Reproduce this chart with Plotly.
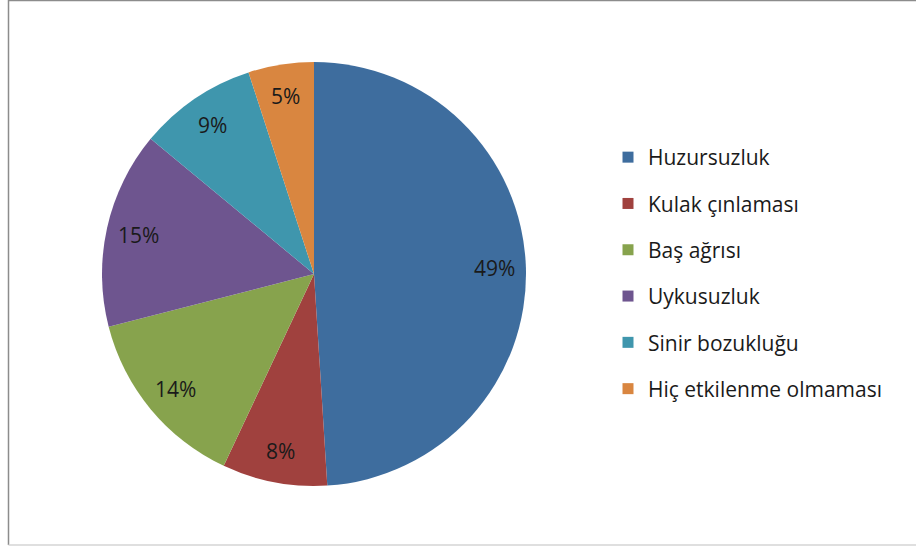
import math
import plotly.graph_objects as go

labels = ['Huzursuzluk', 'Kulak çınlaması', 'Baş ağrısı', 'Uykusuzluk',
          'Sinir bozukluğu', 'Hiç etkilenme olmaması']
values = [49, 8, 14, 15, 9, 5]
colors = ['#3E6D9E', '#A0413E', '#87A34D', '#6E558F', '#3F96AD', '#D98640']

W, H = 916, 547
cx, cy, r = 314, 274, 212
FONT = 'Open Sans'

fig = go.Figure()
fig.add_trace(go.Pie(
    labels=labels,
    values=values,
    sort=False,
    direction='clockwise',
    rotation=0,
    marker=dict(colors=colors, line=dict(width=0)),
    textposition='none',
    showlegend=False,
    hoverinfo='label+percent',
    domain=dict(x=[(cx - r) / W, (cx + r) / W],
                y=[(H - cy - r) / H, (H - cy + r) / H]),
))

# percentage labels, placed at the middle angle of each slice (Excel style)
total = sum(values)
annotations = []
cum = 0
for v in values:
    mid = (cum + v / 2) / total * 2 * math.pi
    cum += v
    rr = 0.85 * r
    px_ = cx + rr * math.sin(mid)
    py_ = cy - rr * math.cos(mid)
    annotations.append(dict(
        x=px_ / W, y=(H - py_) / H, xref='paper', yref='paper',
        xanchor='center', yanchor='middle',
        text=f'{round(v / total * 100)}%', showarrow=False,
        font=dict(family=FONT, size=21, color='#1a1a1a'),
    ))

# legend entries as dummy traces so the spacing can match
for lab, col in zip(labels, colors):
    fig.add_trace(go.Scatter(
        x=[None], y=[None], mode='markers', name=lab, legendgroup=lab,
        marker=dict(symbol='square', size=11, color=col),
    ))

fig.update_layout(
    width=W, height=H,
    margin=dict(l=0, r=0, t=0, b=0),
    paper_bgcolor='white',
    plot_bgcolor='white',
    xaxis=dict(visible=False),
    yaxis=dict(visible=False),
    showlegend=True,
    annotations=annotations,
    legend=dict(
        x=608 / W, y=(H - 273) / H, xanchor='left', yanchor='middle',
        font=dict(family=FONT, size=21, color='#1a1a1a'),
        tracegroupgap=16, itemwidth=30,
        bgcolor='rgba(0,0,0,0)',
    ),
    shapes=[
        dict(type='line', xref='paper', yref='paper', x0=8.5 / W, x1=1,
             y0=1 - 0.5 / H, y1=1 - 0.5 / H, line=dict(color='#8c8c8c', width=1.5)),
        dict(type='line', xref='paper', yref='paper', x0=8.5 / W, x1=8.5 / W,
             y0=2 / H, y1=1, line=dict(color='#8c8c8c', width=1.5)),
        dict(type='line', xref='paper', yref='paper', x0=8.5 / W, x1=1,
             y0=2 / H, y1=2 / H, line=dict(color='#d4d4d4', width=1.5)),
    ],
)

fig.write_html(
    "out.html",
    config=dict(displayModeBar=False),
    post_script="document.body.style.margin='0';document.body.style.overflow='hidden';",
)
